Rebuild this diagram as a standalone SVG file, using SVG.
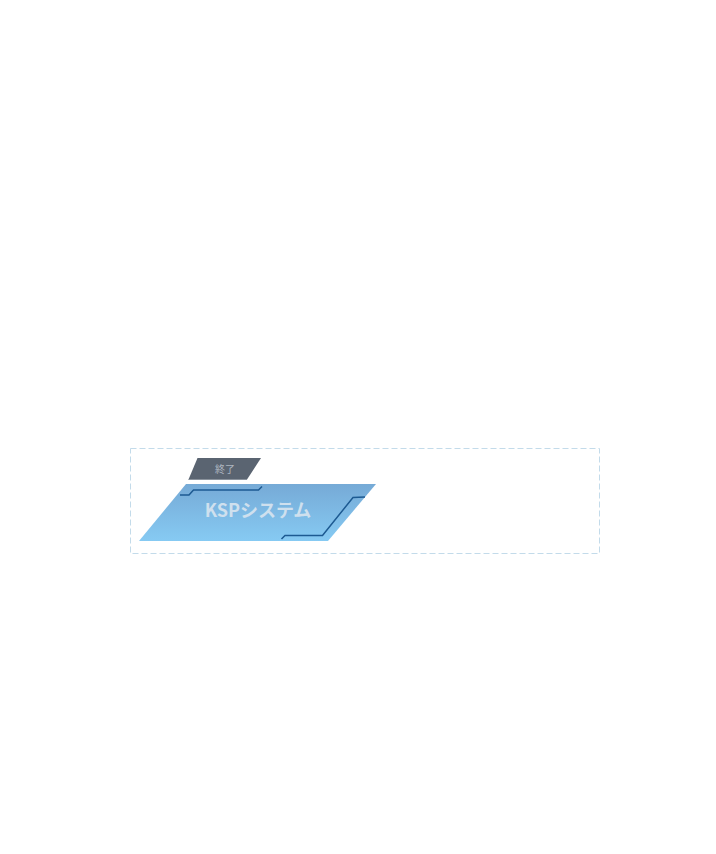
<svg xmlns="http://www.w3.org/2000/svg" width="716" height="854" viewBox="0 0 716 854">
<defs>
<linearGradient id="mainGrad" x1="0" y1="0" x2="0" y2="1">
<stop offset="0" stop-color="#76aad6"/>
<stop offset="1" stop-color="#86caf3"/>
</linearGradient>
<style>
.frame{fill:none;stroke:#c3dbea;stroke-width:1;stroke-dasharray:6 3}
.deco{fill:none;stroke:#1d5a92;stroke-width:1.5}
.tagText{font-family:"Noto Sans CJK JP","Noto Sans",sans-serif;font-size:10px;fill:#aeb6c0}
.mainText{font-family:"Noto Sans CJK JP","Noto Sans",sans-serif;font-size:18px;font-weight:bold;fill:#cfe0ee}
</style>
</defs>
<rect width="716" height="854" fill="#ffffff"/>
<g id="frame">
<rect class="frame" x="130.5" y="448.5" width="469" height="105"/>
</g>
<g id="tag">
<polygon points="197.5,458 261,458 247,479.5 188.5,479.5" fill="#5a6471"/>
<line x1="188.5" y1="479.5" x2="247" y2="479.5" stroke="#8a929c" stroke-width="1"/>
<text class="tagText" x="225" y="473" text-anchor="middle">終了</text>
</g>
<g id="ksp">
<polygon points="186,484 376,484 328,541 139,541" fill="url(#mainGrad)"/>
<text class="mainText" x="258" y="517" text-anchor="middle">KSPシステム</text>
</g>
<g id="connectors">
<polyline class="deco" points="180,495 189,495 193.5,490 258.5,490 262,486.5"/>
<polyline class="deco" points="281.5,539 285,535.5 322.5,535.5 353,497.5 365,497"/>
</g>
</svg>
